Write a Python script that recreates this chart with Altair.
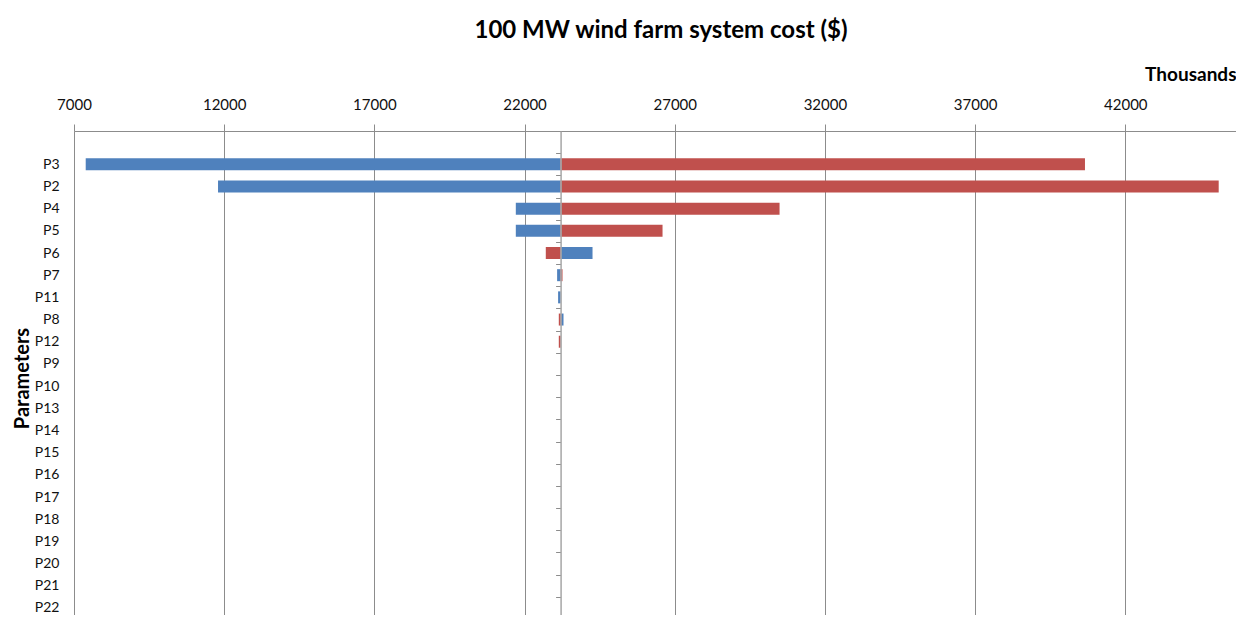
import altair as alt
import pandas as pd

# ---- data (values in thousands of $) ----
params = ["P3", "P2", "P4", "P5", "P6", "P7", "P11", "P8", "P12", "P9", "P10",
          "P13", "P14", "P15", "P16", "P17", "P18", "P19", "P20", "P21", "P22"]
low_values = [7390, 11795, 21709, 21709, 24263, 23084, 23117, 23297, 23200, 23200, 23200,
              23200, 23200, 23200, 23200, 23200, 23200, 23200, 23200, 23200, 23200]
high_values = [40658, 45110, 30490, 26594, 22707, 23264, 23200, 23140, 23140, 23200, 23200,
               23200, 23200, 23200, 23200, 23200, 23200, 23200, 23200, 23200, 23200]
base_value = 23200
x_ticks = [7000, 12000, 17000, 22000, 27000, 32000, 37000, 42000]
x_min, x_max = 7000, 45686
series_names = ["Low", "High"]
series_colors = ["#4F81BD", "#C0504D"]

rows = []
for p, lo, hi in zip(params, low_values, high_values):
    for s, v in (("Low", lo), ("High", hi)):
        if v != base_value:
            rows.append({"param": p, "series": s, "value": v, "base": base_value})
df = pd.DataFrame(rows)

W, H = 1162, 484
y_range_end = 488
y_domain = [" "] + params
base_px = (base_value - x_min) / (x_max - x_min) * W

FONT = "Lato"

chart = alt.Chart(df).mark_bar(size=12).encode(
    x=alt.X("value:Q",
            scale=alt.Scale(domain=[x_min, x_max], nice=False, zero=False),
            axis=alt.Axis(orient="top", values=x_ticks, format="d", tickSize=7,
                          labelPadding=12, labelFontSize=15, labelColor="#111111",
                          labelFont=FONT, labelFlush=False, grid=True, gridColor="#8c8c8c",
                          domainColor="#8c8c8c", tickColor="#8c8c8c",
                          title="Thousands", titleAnchor="end", titleFont=FONT,
                          titleFontSize=19, titleFontWeight="bold", titleColor="#000000",
                          titlePadding=13)),
    x2="base:Q",
    y=alt.Y("param:N", sort=y_domain,
            scale=alt.Scale(domain=y_domain, range=[0, y_range_end],
                            paddingInner=0, paddingOuter=0),
            axis=alt.Axis(orient="left", offset=-base_px, tickSize=5, tickBand="extent",
                          grid=False, domainColor="#a6a6a6", domainWidth=1.5,
                          tickColor="#8c8c8c", labelPadding=base_px + 15 - 5,
                          labelFont=FONT, labelFontSize=14, labelColor="#111111",
                          title="Parameters", titleFont=FONT, titleFontSize=20,
                          titleFontWeight="bold", titleColor="#000000",
                          titleAngle=270, titleAlign="center", titleBaseline="middle",
                          titleX=-(base_px + 52), titleY=247, zindex=1)),
    color=alt.Color("series:N",
                    scale=alt.Scale(domain=series_names, range=series_colors),
                    legend=None),
).properties(
    width=W, height=H,
    title=alt.TitleParams("100 MW wind farm system cost ($)", font=FONT, fontSize=24,
                          fontWeight="bold", color="#000000", anchor="middle",
                          offset=22, dx=6),
    autosize=alt.AutoSizeParams(type="none"),
    padding={"left": 66, "top": 123, "right": 0, "bottom": 0},
).configure_view(stroke=None).configure(font=FONT)

chart.save("out.html", embed_options={"renderer": "svg", "actions": False})
